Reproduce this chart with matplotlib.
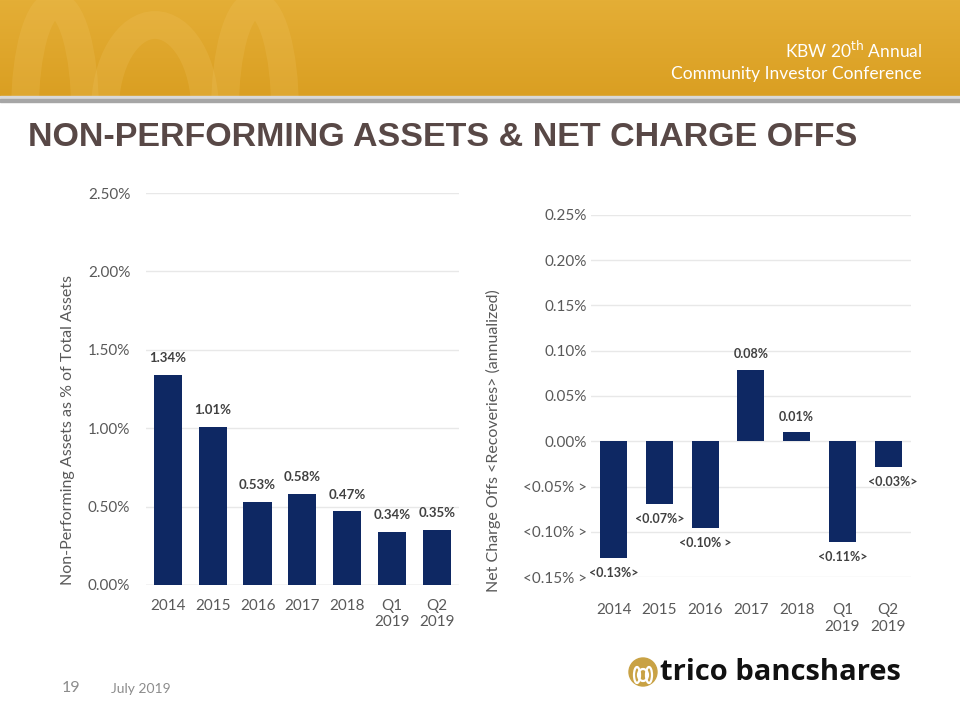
import matplotlib
matplotlib.use("Agg")
import matplotlib.pyplot as plt
import numpy as np
from matplotlib.colors import LinearSegmentedColormap
from matplotlib.patches import Rectangle, Circle, Ellipse

# data
npa_periods = ["2014", "2015", "2016", "2017", "2018", "Q1\n2019", "Q2\n2019"]
npa_values = [1.34, 1.01, 0.53, 0.58, 0.47, 0.34, 0.35]
npa_labels = ["1.34%", "1.01%", "0.53%", "0.58%", "0.47%", "0.34%", "0.35%"]
npa_ticks = [0.0, 0.5, 1.0, 1.5, 2.0, 2.5]
npa_tick_labels = ["0.00%", "0.50%", "1.00%", "1.50%", "2.00%", "2.50%"]

nco_periods = ["2014", "2015", "2016", "2017", "2018", "Q1\n2019", "Q2\n2019"]
nco_values = [-0.129, -0.069, -0.096, 0.079, 0.010, -0.111, -0.028]
nco_labels = ["<0.13%>", "<0.07%>", "<0.10% >", "0.08%", "0.01%", "<0.11%>", "<0.03%>"]
nco_ticks = [-0.15, -0.10, -0.05, 0.0, 0.05, 0.10, 0.15, 0.20, 0.25]
nco_tick_labels = ["<0.15% >", "<0.10% >", "<0.05% >", "0.00%", "0.05%",
                   "0.10%", "0.15%", "0.20%", "0.25%"]

BAR = "#0E2863"
TICK = "#595959"
LABEL = "#404040"
FONT = ["Lato", "DejaVu Sans"]

W, H = 960, 720
fig = plt.figure(figsize=(9.6, 7.2), dpi=100)

# slide decoration drawn in pixel coordinates
bg = fig.add_axes([0, 0, 1, 1], zorder=-1)
bg.set_xlim(0, W)
bg.set_ylim(H, 0)
bg.axis("off")

grad = np.linspace(0, 1, 96)[:, None] * np.ones((1, 2))
gold = LinearSegmentedColormap.from_list("gold", ["#E4AE36", "#DA9F22"])
bg.imshow(grad, extent=(0, W, 96, 0), cmap=gold, aspect="auto", zorder=0)
header = Rectangle((0, 0), W, 96, transform=bg.transData, visible=False)
bg.add_patch(header)
# faint watermark of the logo
for cx, w_, h_ in [(55, 60, 210), (155, 100, 170), (255, 60, 210)]:
    e = Ellipse((cx, 110), w_, h_, fill=False, lw=20, ec="#F0C565", alpha=0.22, zorder=1)
    bg.add_patch(e)
    e.set_clip_path(header)
bg.add_patch(Rectangle((0, 96), W, 3, color="#D9D9D9", zorder=2))
bg.add_patch(Rectangle((0, 99), W, 3, color="#A6A6A6", zorder=2))

fig.text(922 / W, 1 - 50 / H, "KBW 20$^{\\mathrm{th}}$ Annual", ha="right", va="center",
         color="white", fontsize=12.5, family=FONT)
fig.text(922 / W, 1 - 74 / H, "Community Investor Conference", ha="right", va="center",
         color="white", fontsize=12.5, family=FONT)

fig.text(28 / W, 1 - 138 / H, "NON-PERFORMING ASSETS & NET CHARGE OFFS", ha="left",
         va="center", color="#584846", fontsize=24.5, fontweight="bold",
         family=["Liberation Sans", "DejaVu Sans"])

fig.text(62 / W, 1 - 688 / H, "19", ha="left", va="center", color="#8C8C8C",
         fontsize=11.5, family=FONT)
fig.text(111 / W, 1 - 689 / H, "July 2019", ha="left", va="center", color="#8C8C8C",
         fontsize=10, family=FONT)

# logo
bg.add_patch(Circle((643, 672), 14, color="#C9A244", zorder=3))
for cx, w_, h_ in [(637, 6, 16), (643, 10, 12), (649, 6, 16)]:
    bg.add_patch(Ellipse((cx, 675), w_, h_, fill=False, lw=1.6, ec="white", zorder=4))
fig.text(660 / W, 1 - 672 / H, "trico bancshares", ha="left", va="center",
         color="#111111", fontsize=21, fontweight="bold",
         family=["Open Sans", "DejaVu Sans"])


def style_axis(ax):
    for s in ax.spines.values():
        s.set_visible(False)
    ax.tick_params(axis="both", length=0, colors=TICK, labelsize=11)
    for lbl in ax.get_xticklabels() + ax.get_yticklabels():
        lbl.set_family(FONT)
    ax.grid(axis="y", color="#E8E8E8", lw=1)
    ax.set_axisbelow(True)


# left: non-performing assets
ax1 = fig.add_axes([0.1517, 0.1875, 0.3265, 0.5444])
x1 = np.arange(len(npa_periods))
ax1.bar(x1, npa_values, width=0.63, color=BAR, zorder=2)
ax1.set_xlim(-0.5, len(npa_periods) - 0.5)
ax1.set_ylim(0, 2.5)
ax1.set_yticks(npa_ticks)
ax1.set_yticklabels(npa_tick_labels)
ax1.set_xticks(x1)
ax1.set_xticklabels(npa_periods)
ax1.tick_params(axis="y", pad=11)
ax1.tick_params(axis="x", pad=10)
style_axis(ax1)
ax1.axhline(0, color="#D9D9D9", lw=1, zorder=1)
for xi, v, t in zip(x1, npa_values, npa_labels):
    ax1.annotate(t, (xi, v), xytext=(0, 12), textcoords="offset points", ha="center",
                 va="center", fontsize=9.5, fontweight="bold", color=LABEL, family=FONT)
ax1.set_ylabel("Non-Performing Assets as % of Total Assets", fontsize=11.5,
               color=TICK, family=FONT)
ax1.yaxis.set_label_coords(-0.225, 0.395)

# right: net charge offs
ax2 = fig.add_axes([0.6156, 0.1986, 0.3333, 0.5028])
x2 = np.arange(len(nco_periods))
ax2.bar(x2, nco_values, width=0.59, color=BAR, zorder=2)
ax2.set_xlim(-0.5, len(nco_periods) - 0.5)
ax2.set_ylim(-0.15, 0.25)
ax2.set_yticks(nco_ticks)
ax2.set_yticklabels(nco_tick_labels)
ax2.set_xticks(x2)
ax2.set_xticklabels(nco_periods)
ax2.tick_params(axis="y", pad=3)
ax2.tick_params(axis="x", pad=19)
style_axis(ax2)
for xi, v, t in zip(x2, nco_values, nco_labels):
    off = 11 if v >= 0 else -11
    ax2.annotate(t, (xi, v), xytext=(3 if t == "<0.03%>" else 0, off),
                 textcoords="offset points", ha="center", va="center", fontsize=9,
                 fontweight="bold", color=LABEL, family=FONT)
ax2.set_ylabel("Net Charge Offs <Recoveries> (annualized)", fontsize=11.5,
               color=TICK, family=FONT)
ax2.yaxis.set_label_coords(-0.28, 0.378)

fig.savefig("out.png", dpi=100)
